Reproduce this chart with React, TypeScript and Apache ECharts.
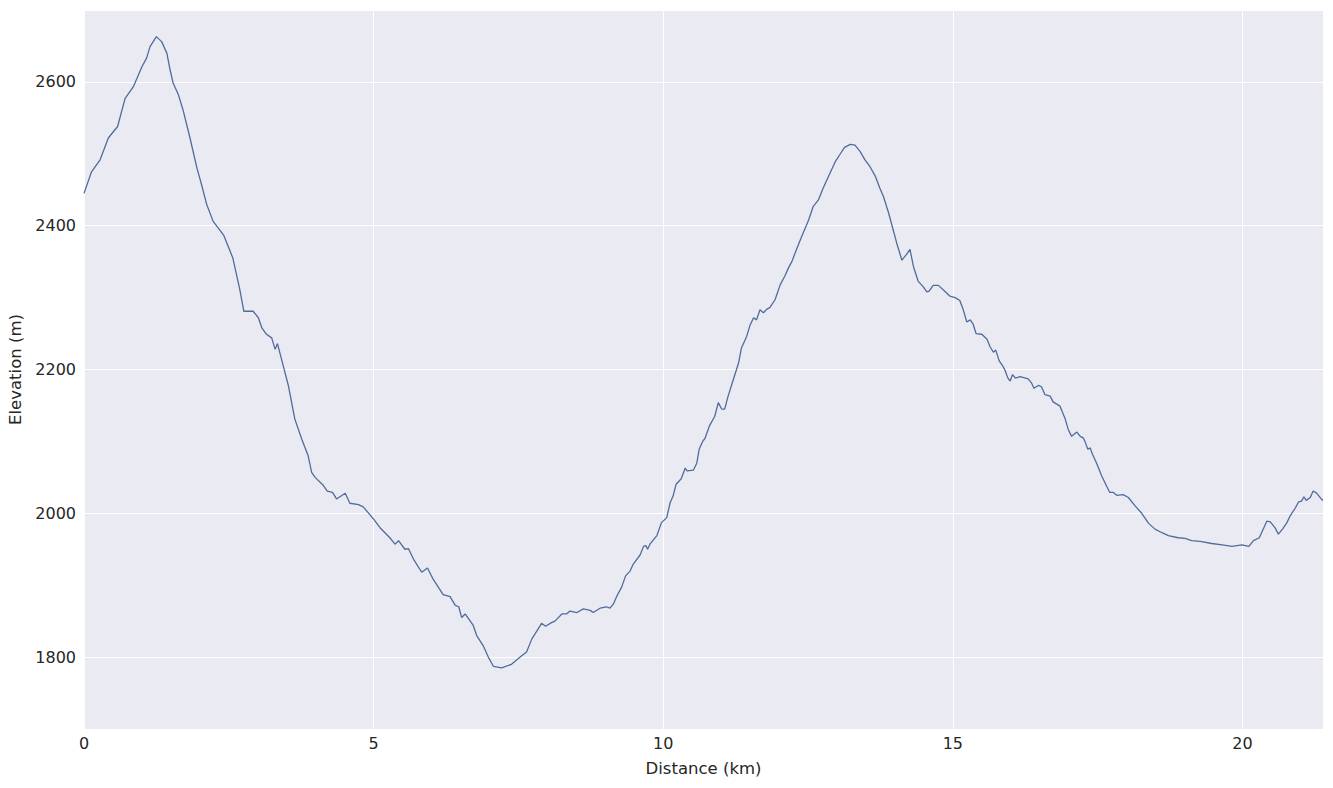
import React, { useEffect, useRef } from "react";
import * as echarts from "echarts";

const distanceKm: number[] = [
  0, 0.13, 0.28, 0.42, 0.51, 0.58, 0.71, 0.85, 1.0, 1.08, 1.14, 1.25, 1.34, 1.43, 1.48, 1.54, 1.63, 1.71, 1.83, 1.95,
  2.03, 2.12, 2.23, 2.41, 2.49, 2.57, 2.69, 2.76, 2.92, 3.01, 3.07, 3.15, 3.24, 3.3, 3.34, 3.44, 3.53, 3.64, 3.76, 3.87,
  3.93, 3.99, 4.13, 4.2, 4.29, 4.36, 4.51, 4.59, 4.74, 4.82, 5.0, 5.11, 5.28, 5.37, 5.43, 5.54, 5.6, 5.69, 5.83, 5.93,
  6.03, 6.2, 6.32, 6.41, 6.47, 6.52, 6.58, 6.72, 6.78, 6.89, 6.98, 7.07, 7.21, 7.38, 7.53, 7.64, 7.73, 7.9, 7.97, 8.07,
  8.13, 8.25, 8.33, 8.39, 8.51, 8.62, 8.74, 8.79, 8.91, 9.02, 9.08, 9.14, 9.2, 9.28, 9.35, 9.43, 9.48, 9.6, 9.66, 9.7,
  9.73, 9.77, 9.89, 9.97, 10.06, 10.12, 10.17, 10.22, 10.31, 10.38, 10.41, 10.52, 10.58, 10.62, 10.68, 10.72, 10.8, 10.89, 10.95, 11.01,
  11.06, 11.12, 11.21, 11.3, 11.35, 11.44, 11.5, 11.56, 11.61, 11.67, 11.73, 11.79, 11.84, 11.93, 12.02, 12.1, 12.16, 12.22, 12.3, 12.39,
  12.51, 12.59, 12.68, 12.76, 12.85, 12.97, 13.05, 13.13, 13.23, 13.31, 13.4, 13.48, 13.57, 13.66, 13.74, 13.8, 13.89, 13.97, 14.03, 14.12,
  14.2, 14.26, 14.32, 14.4, 14.49, 14.55, 14.59, 14.66, 14.75, 14.87, 14.95, 15.04, 15.12, 15.18, 15.24, 15.3, 15.35, 15.4, 15.5, 15.59,
  15.64, 15.7, 15.74, 15.8, 15.86, 15.9, 15.95, 15.99, 16.03, 16.08, 16.16, 16.3, 16.36, 16.4, 16.48, 16.53, 16.59, 16.68, 16.73, 16.85,
  16.94, 16.99, 17.05, 17.14, 17.2, 17.25, 17.28, 17.33, 17.37, 17.41, 17.48, 17.57, 17.66, 17.71, 17.77, 17.83, 17.94, 18.03, 18.15, 18.26,
  18.38, 18.49, 18.61, 18.72, 18.89, 19.01, 19.12, 19.27, 19.47, 19.65, 19.82, 19.99, 20.11, 20.19, 20.29, 20.42, 20.48, 20.56, 20.62, 20.69,
  20.76, 20.82, 20.91, 20.97, 21.02, 21.06, 21.1, 21.17, 21.22, 21.28, 21.37, 21.39,
];

const elevationM: number[] = [
  2445, 2475, 2492, 2522, 2531, 2538, 2577, 2593, 2621, 2633, 2649, 2663, 2656, 2640, 2619, 2598, 2582, 2561, 2522, 2480,
  2457, 2429, 2406, 2387, 2371, 2355, 2311, 2281, 2281, 2272, 2258, 2249, 2244, 2228, 2236, 2205, 2177, 2131, 2103, 2080,
  2057, 2050, 2039, 2031, 2029, 2020, 2028, 2014, 2012, 2009, 1992, 1980, 1966, 1957, 1962, 1950, 1951, 1936, 1918, 1924,
  1908, 1887, 1884, 1872, 1870, 1855, 1860, 1844, 1830, 1816, 1800, 1787, 1785, 1790, 1800, 1807, 1825, 1847, 1843, 1848,
  1850, 1860, 1860, 1864, 1862, 1867, 1865, 1862, 1868, 1870, 1868, 1874, 1885, 1897, 1913, 1920, 1929, 1942, 1954, 1955,
  1950, 1957, 1969, 1987, 1994, 2015, 2024, 2040, 2048, 2063, 2059, 2060, 2070, 2089, 2100, 2104, 2122, 2135, 2154, 2145,
  2145, 2163, 2186, 2209, 2230, 2246, 2262, 2272, 2269, 2283, 2279, 2284, 2286, 2297, 2318, 2330, 2341, 2350, 2367, 2385,
  2408, 2427, 2436, 2452, 2468, 2489, 2499, 2509, 2513, 2512, 2503, 2492, 2482, 2469, 2452, 2441, 2418, 2394, 2376, 2352,
  2360, 2367, 2343, 2323, 2315, 2308, 2309, 2317, 2317, 2308, 2302, 2300, 2296, 2283, 2266, 2269, 2263, 2250, 2249, 2242,
  2232, 2224, 2227, 2212, 2205, 2199, 2188, 2184, 2193, 2188, 2190, 2187, 2181, 2174, 2178, 2176, 2165, 2163, 2155, 2149,
  2131, 2117, 2107, 2113, 2107, 2105, 2100, 2089, 2091, 2082, 2070, 2052, 2037, 2029, 2029, 2025, 2026, 2022, 2010, 2000,
  1986, 1978, 1973, 1969, 1966, 1965, 1962, 1961, 1958, 1956, 1954, 1956, 1954, 1962, 1966, 1989, 1988, 1980, 1971, 1978,
  1986, 1996, 2007, 2016, 2017, 2023, 2018, 2022, 2031, 2028, 2019, 2018,
];

const xTitle = "Distance (km)";
const yTitle = "Elevation (m)";

export default function App() {
  const ref = useRef<HTMLDivElement>(null);

  useEffect(() => {
    if (!ref.current) return;
    const chart = echarts.init(ref.current, null, { renderer: "svg" });
    const data = distanceKm.map((d, i) => [d, elevationM[i]]);
    const font = "DejaVu Sans";
    const textColor = "#262626";
    chart.setOption({
      animation: false,
      backgroundColor: "#ffffff",
      grid: {
        left: 84, right: 10, top: 10, bottom: 59,
        containLabel: false, outerBoundsMode: "none",
        show: true, backgroundColor: "#eaeaf2", borderWidth: 0,
      },
      xAxis: {
        type: "value",
        min: 0,
        max: 21.39,
        interval: 5,
        name: xTitle,
        nameLocation: "middle",
        nameGap: 31,
        nameTextStyle: { fontFamily: font, fontSize: 16.5, color: textColor },
        axisLine: { show: false },
        axisTick: { show: false },
        axisLabel: { fontFamily: font, fontSize: 16, color: textColor, margin: 6, showMaxLabel: false, formatter: (v: number) => String(v) },
        splitLine: { show: true, lineStyle: { color: "#ffffff", width: 1 } },
      },
      yAxis: {
        type: "value",
        min: 1700,
        max: 2700,
        splitNumber: 5,
        name: yTitle,
        nameLocation: "middle",
        nameGap: 58,
        nameTextStyle: { fontFamily: font, fontSize: 16.5, color: textColor },
        axisLine: { show: false },
        axisTick: { show: false },
        axisLabel: {
          fontFamily: font, fontSize: 16, color: textColor, margin: 8,
          showMinLabel: false, showMaxLabel: false,
          formatter: (v: number) => String(v),
        },
        splitLine: { show: true, lineStyle: { color: "#ffffff", width: 1 } },
      },
      series: [
        {
          type: "line",
          data,
          showSymbol: false,
          smooth: false,
          lineStyle: { color: "#506c9c", width: 1.3 },
        },
      ],
    });
    return () => chart.dispose();
  }, []);

  return <div ref={ref} style={{ position: "fixed", left: 0, top: 0, width: 1333, height: 788 }} />;
}
